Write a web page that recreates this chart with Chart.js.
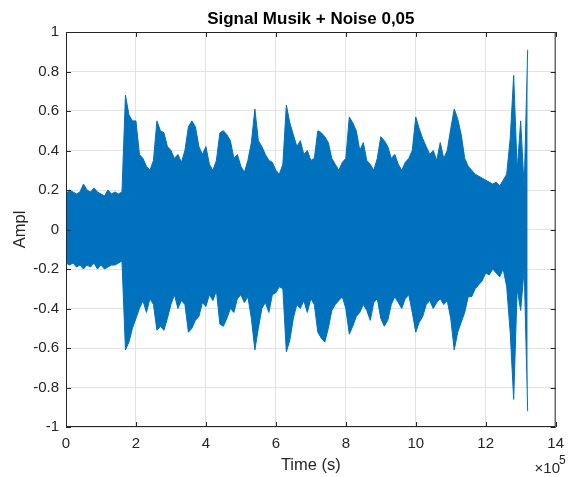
<!DOCTYPE html>
<html lang="en">
<head>
    <meta charset="UTF-8">
    <title>Signal Musik + Noise 0,05</title>
    <script src="https://cdn.jsdelivr.net/npm/chart.js"></script>
    <style>
        html, body { margin: 0; padding: 0; background: #fff; }
        #wrap { width: 572px; height: 477px; }
    </style>
</head>
<body>
    <div id="wrap"><canvas id="sigChart" width="572" height="477"></canvas></div>
    <script>
        // peak envelope of the signal, one bin every 1e4 samples
        const binWidth = 10000;
        const upper = [
            0.18, 0.20, 0.19, 0.18, 0.19, 0.23, 0.20, 0.19, 0.21, 0.19,
            0.18, 0.17, 0.20, 0.18, 0.19, 0.18, 0.19, 0.68, 0.58, 0.55,
            0.55, 0.38, 0.36, 0.32, 0.30, 0.35, 0.55, 0.50, 0.49, 0.42,
            0.40, 0.36, 0.38, 0.34, 0.40, 0.52, 0.55, 0.52, 0.42, 0.38,
            0.42, 0.33, 0.30, 0.35, 0.49, 0.50, 0.48, 0.45, 0.36, 0.38,
            0.32, 0.29, 0.35, 0.44, 0.61, 0.45, 0.42, 0.38, 0.35, 0.34,
            0.30, 0.28, 0.33, 0.63, 0.54, 0.48, 0.42, 0.45, 0.38, 0.40,
            0.35, 0.36, 0.50, 0.49, 0.47, 0.44, 0.36, 0.33, 0.30, 0.34,
            0.36, 0.57, 0.54, 0.50, 0.40, 0.44, 0.35, 0.33, 0.30, 0.36,
            0.47, 0.45, 0.42, 0.36, 0.38, 0.33, 0.30, 0.34, 0.36, 0.40,
            0.57, 0.51, 0.46, 0.42, 0.38, 0.40, 0.35, 0.44, 0.36, 0.40,
            0.51, 0.61, 0.56, 0.48, 0.36, 0.32, 0.30, 0.28, 0.27, 0.26,
            0.25, 0.24, 0.23, 0.24, 0.22, 0.25, 0.28, 0.46, 0.78, 0.30,
            0.55, 0.21, 0.91
        ];
        const lower = [
            -0.17, -0.18, -0.17, -0.19, -0.18, -0.20, -0.18, -0.19, -0.17, -0.20,
            -0.18, -0.20, -0.19, -0.18, -0.18, -0.17, -0.16, -0.61, -0.57, -0.50,
            -0.45, -0.40, -0.36, -0.42, -0.35, -0.38, -0.51, -0.49, -0.51, -0.45,
            -0.38, -0.33, -0.40, -0.36, -0.38, -0.52, -0.50, -0.46, -0.44, -0.37,
            -0.39, -0.33, -0.36, -0.31, -0.48, -0.49, -0.45, -0.40, -0.42, -0.35,
            -0.33, -0.37, -0.34, -0.45, -0.61, -0.50, -0.40, -0.37, -0.42, -0.33,
            -0.32, -0.29, -0.30, -0.62, -0.56, -0.45, -0.38, -0.40, -0.36, -0.42,
            -0.35, -0.38, -0.52, -0.55, -0.57, -0.50, -0.41, -0.38, -0.36, -0.34,
            -0.40, -0.53, -0.49, -0.44, -0.42, -0.38, -0.41, -0.46, -0.37, -0.35,
            -0.45, -0.49, -0.46, -0.38, -0.34, -0.37, -0.40, -0.35, -0.33, -0.42,
            -0.52, -0.47, -0.44, -0.38, -0.36, -0.40, -0.37, -0.35, -0.38, -0.36,
            -0.45, -0.61, -0.52, -0.47, -0.42, -0.34, -0.34, -0.30, -0.28, -0.26,
            -0.22, -0.23, -0.20, -0.22, -0.24, -0.20, -0.29, -0.52, -0.86, -0.30,
            -0.41, -0.20, -0.92
        ];

        const xTicks = [0, 200000, 400000, 600000, 800000, 1000000, 1200000, 1400000];
        const yTicks = [-1, -0.8, -0.6, -0.4, -0.2, 0, 0.2, 0.4, 0.6, 0.8, 1];

        const titleText = 'Signal Musik + Noise 0,05';
        const xLabel = 'Time (s)';
        const yLabel = 'Ampl';
        const textColor = '#262626';
        const lineColor = '#0072BD';
        const font = '"Liberation Sans", Arial, sans-serif';

        const upperPts = upper.map((v, i) => ({ x: i * binWidth, y: v }));
        const lowerPts = lower.map((v, i) => ({ x: i * binWidth, y: v }));

        // box, inward ticks, title and labels like the matlab axes
        const matlabAxes = {
            id: 'matlabAxes',
            afterDraw(chart) {
                const ctx = chart.ctx;
                const a = chart.chartArea;
                const xs = chart.scales.x, ys = chart.scales.y;
                ctx.save();
                ctx.strokeStyle = textColor;
                ctx.lineWidth = 1;
                ctx.beginPath();
                xTicks.forEach(v => {
                    const p = Math.round(xs.getPixelForValue(v)) + 0.5;
                    ctx.moveTo(p, a.bottom); ctx.lineTo(p, a.bottom - 5);
                    ctx.moveTo(p, a.top); ctx.lineTo(p, a.top + 5);
                });
                yTicks.forEach(v => {
                    const p = Math.round(ys.getPixelForValue(v)) + 0.5;
                    ctx.moveTo(a.left, p); ctx.lineTo(a.left + 5, p);
                    ctx.moveTo(a.right, p); ctx.lineTo(a.right - 5, p);
                });
                ctx.stroke();
                ctx.strokeRect(a.left + 0.5, a.top + 0.5, a.right - a.left - 1, a.bottom - a.top - 1);

                ctx.fillStyle = '#000';
                ctx.font = 'bold 17px ' + font;
                ctx.textAlign = 'center';
                ctx.textBaseline = 'middle';
                ctx.fillText(titleText, (a.left + a.right) / 2, 19);

                ctx.fillStyle = textColor;
                ctx.font = '16.5px ' + font;
                ctx.fillText(xLabel, (a.left + a.right) / 2, 465);

                ctx.save();
                ctx.translate(20, (a.top + a.bottom) / 2);
                ctx.rotate(-Math.PI / 2);
                ctx.fillText(yLabel, 0, 0);
                ctx.restore();

                ctx.font = '15px ' + font;
                ctx.textAlign = 'right';
                ctx.fillText('\u00d710', 560, 469);
                ctx.font = '12px ' + font;
                ctx.textAlign = 'left';
                ctx.fillText('5', 559, 461);
                ctx.restore();
            }
        };

        new Chart(document.getElementById('sigChart'), {
            type: 'line',
            data: {
                datasets: [{
                    data: upperPts,
                    borderColor: lineColor,
                    backgroundColor: lineColor,
                    borderWidth: 1,
                    pointRadius: 0,
                    fill: '+1',
                    tension: 0
                }, {
                    data: lowerPts,
                    borderColor: lineColor,
                    backgroundColor: lineColor,
                    borderWidth: 1,
                    pointRadius: 0,
                    fill: false,
                    tension: 0
                }]
            },
            options: {
                responsive: false,
                animation: false,
                events: [],
                layout: { padding: { left: 0, right: 5, top: 32, bottom: 0 } },
                plugins: { legend: { display: false }, tooltip: { enabled: false } },
                scales: {
                    x: {
                        type: 'linear',
                        min: 0,
                        max: 1400000,
                        afterFit: s => { s.height = 50; },
                        afterBuildTicks: s => { s.ticks = xTicks.map(v => ({ value: v })); },
                        grid: { color: '#e3e3e3', drawTicks: false },
                        border: { display: false },
                        ticks: {
                            padding: 8,
                            color: textColor,
                            font: { family: font, size: 15 },
                            maxRotation: 0,
                            callback: v => String(Math.round(v / 100000))
                        }
                    },
                    y: {
                        min: -1,
                        max: 1,
                        afterFit: s => { s.width = 66; },
                        afterBuildTicks: s => { s.ticks = yTicks.map(v => ({ value: v })); },
                        grid: { color: '#e3e3e3', drawTicks: false },
                        border: { display: false },
                        ticks: {
                            padding: 7,
                            color: textColor,
                            font: { family: font, size: 15 },
                            callback: v => String(Math.round(v * 10) / 10)
                        }
                    }
                }
            },
            plugins: [matlabAxes]
        });
    </script>
</body>
</html>
